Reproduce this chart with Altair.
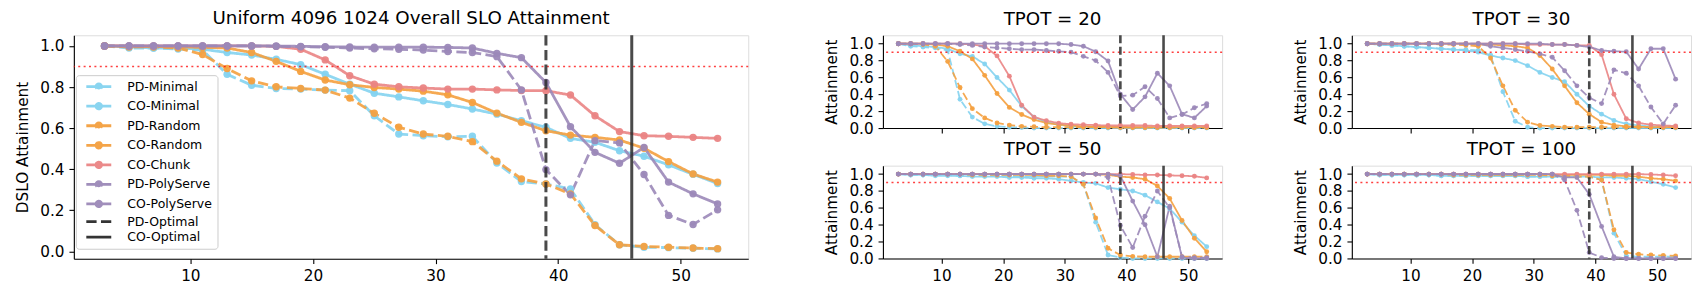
import altair as alt
import pandas as pd

# ---------------- data ----------------
X_VALUES = [3, 5, 7, 9, 11, 13, 15, 17, 19, 21, 23, 25, 27, 29, 31, 33, 35, 37, 39, 41, 43, 45, 47, 49, 51, 53]
SERIES = ["PD-Minimal", "CO-Minimal", "PD-Random", "CO-Random", "CO-Chunk", "PD-PolyServe", "CO-PolyServe"]
OPTIMAL = ["PD-Optimal", "CO-Optimal"]
OPTIMAL_X = [39, 46]
SLO_TARGET = 0.9
PANEL_TITLES = ["TPOT = 20", "TPOT = 30", "TPOT = 50", "TPOT = 100"]

OVERALL = {
    "PD-Minimal": [1.0, 0.99, 0.99, 0.985, 0.98, 0.862, 0.809, 0.793, 0.79, 0.785, 0.782, 0.66, 0.571, 0.563, 0.558, 0.56, 0.43, 0.34, 0.328, 0.304, 0.13, 0.032, 0.02, 0.018, 0.015, 0.012],
    "CO-Minimal": [1.0, 0.995, 0.99, 0.99, 0.984, 0.968, 0.956, 0.935, 0.909, 0.862, 0.814, 0.77, 0.752, 0.733, 0.715, 0.693, 0.668, 0.636, 0.604, 0.55, 0.531, 0.49, 0.463, 0.421, 0.375, 0.33],
    "PD-Random": [1.0, 0.995, 0.995, 0.99, 0.958, 0.89, 0.83, 0.801, 0.793, 0.785, 0.746, 0.672, 0.604, 0.571, 0.56, 0.534, 0.439, 0.353, 0.328, 0.28, 0.126, 0.032, 0.024, 0.02, 0.016, 0.013],
    "CO-Random": [1.0, 0.998, 0.997, 0.995, 0.993, 0.99, 0.968, 0.925, 0.876, 0.834, 0.811, 0.798, 0.79, 0.78, 0.762, 0.725, 0.673, 0.628, 0.587, 0.566, 0.555, 0.542, 0.502, 0.437, 0.377, 0.337],
    "CO-Chunk": [1.0, 1.0, 1.0, 1.0, 1.0, 1.0, 1.0, 0.998, 0.984, 0.932, 0.855, 0.814, 0.801, 0.795, 0.79, 0.79, 0.786, 0.783, 0.782, 0.761, 0.66, 0.583, 0.563, 0.56, 0.555, 0.55],
    "PD-PolyServe": [1.0, 1.0, 1.0, 1.0, 1.0, 1.0, 1.0, 0.998, 0.996, 0.994, 0.99, 0.986, 0.984, 0.98, 0.973, 0.968, 0.948, 0.786, 0.398, 0.275, 0.539, 0.528, 0.374, 0.175, 0.131, 0.202],
    "CO-PolyServe": [1.0, 1.0, 1.0, 1.0, 1.0, 1.0, 1.0, 1.0, 0.998, 0.996, 0.995, 0.994, 0.994, 0.994, 0.993, 0.99, 0.964, 0.943, 0.822, 0.607, 0.482, 0.429, 0.506, 0.337, 0.28, 0.231],
}

TPOT20 = {
    "PD-Minimal": [1.0, 0.97, 0.96, 0.95, 0.92, 0.34, 0.13, 0.05, 0.02, 0.01, 0.005, 0.0, 0.0, 0.0, 0.0, 0.0, 0.0, 0.0, 0.0, 0.0, 0.0, 0.0, 0.0, 0.0, 0.0, 0.0],
    "CO-Minimal": [1.0, 0.98, 0.97, 0.96, 0.94, 0.88, 0.85, 0.76, 0.6, 0.45, 0.26, 0.13, 0.07, 0.04, 0.02, 0.015, 0.01, 0.01, 0.01, 0.005, 0.005, 0.005, 0.005, 0.005, 0.005, 0.005],
    "PD-Random": [1.0, 1.0, 0.99, 0.97, 0.79, 0.48, 0.23, 0.12, 0.06, 0.035, 0.02, 0.015, 0.01, 0.01, 0.01, 0.01, 0.01, 0.01, 0.005, 0.005, 0.005, 0.005, 0.005, 0.005, 0.005, 0.005],
    "CO-Random": [1.0, 1.0, 1.0, 0.99, 0.97, 0.91, 0.82, 0.625, 0.41, 0.245, 0.16, 0.1, 0.06, 0.04, 0.03, 0.02, 0.02, 0.015, 0.015, 0.01, 0.01, 0.01, 0.01, 0.01, 0.01, 0.01],
    "CO-Chunk": [1.0, 1.0, 1.0, 1.0, 1.0, 1.0, 0.99, 0.97, 0.855, 0.615, 0.27, 0.13, 0.088, 0.058, 0.045, 0.04, 0.035, 0.03, 0.03, 0.03, 0.03, 0.025, 0.025, 0.025, 0.025, 0.025],
    "PD-PolyServe": [1.0, 1.0, 1.0, 1.0, 1.0, 0.99, 0.98, 0.96, 0.95, 0.94, 0.93, 0.93, 0.92, 0.91, 0.9, 0.85, 0.8, 0.66, 0.38, 0.39, 0.49, 0.35, 0.12, 0.16, 0.24, 0.29],
    "CO-PolyServe": [1.0, 1.0, 1.0, 1.0, 1.0, 1.0, 1.0, 1.0, 1.0, 1.0, 1.0, 1.0, 1.0, 1.0, 0.99, 0.97, 0.905, 0.795, 0.4, 0.22, 0.37, 0.65, 0.5, 0.165, 0.12, 0.26],
}

TPOT30 = {
    "PD-Minimal": [1.0, 0.99, 0.98, 0.97, 0.96, 0.95, 0.94, 0.93, 0.93, 0.92, 0.86, 0.43, 0.08, 0.01, 0.0, 0.0, 0.0, 0.0, 0.0, 0.0, 0.0, 0.0, 0.0, 0.0, 0.0, 0.0],
    "CO-Minimal": [1.0, 0.99, 0.98, 0.97, 0.96, 0.95, 0.94, 0.93, 0.92, 0.9, 0.86, 0.83, 0.8, 0.74, 0.66, 0.6, 0.55, 0.4, 0.26, 0.165, 0.09, 0.05, 0.03, 0.02, 0.02, 0.02],
    "PD-Random": [1.0, 1.0, 1.0, 1.0, 1.0, 1.0, 0.99, 0.99, 0.98, 0.97, 0.83, 0.5, 0.21, 0.07, 0.03, 0.02, 0.01, 0.01, 0.01, 0.01, 0.01, 0.01, 0.01, 0.01, 0.01, 0.01],
    "CO-Random": [1.0, 1.0, 1.0, 1.0, 1.0, 1.0, 1.0, 1.0, 1.0, 0.99, 0.99, 0.98, 0.97, 0.95, 0.86, 0.7, 0.5, 0.3, 0.165, 0.07, 0.035, 0.02, 0.015, 0.01, 0.01, 0.01],
    "CO-Chunk": [1.0, 1.0, 1.0, 1.0, 1.0, 1.0, 1.0, 1.0, 1.0, 1.0, 1.0, 1.0, 1.0, 0.99, 0.99, 0.99, 0.99, 0.98, 0.98, 0.87, 0.4, 0.11, 0.06, 0.04, 0.03, 0.025],
    "PD-PolyServe": [1.0, 1.0, 1.0, 1.0, 1.0, 1.0, 1.0, 1.0, 1.0, 1.0, 0.97, 0.95, 0.93, 0.91, 0.88, 0.84, 0.68, 0.5, 0.36, 0.29, 0.69, 0.65, 0.5, 0.25, 0.05, 0.27],
    "CO-PolyServe": [1.0, 1.0, 1.0, 1.0, 1.0, 1.0, 1.0, 1.0, 1.0, 1.0, 1.0, 1.0, 1.0, 1.0, 1.0, 0.99, 0.99, 0.98, 0.96, 0.92, 0.91, 0.905, 0.7, 0.94, 0.94, 0.58],
}

TPOT50 = {
    "PD-Minimal": [1.0, 0.99, 0.99, 0.99, 0.99, 0.98, 0.98, 0.98, 0.98, 0.98, 0.97, 0.97, 0.97, 0.97, 0.97, 0.88, 0.43, 0.04, 0.01, 0.0, 0.0, 0.0, 0.0, 0.0, 0.0, 0.0],
    "CO-Minimal": [1.0, 0.99, 0.99, 0.98, 0.98, 0.98, 0.97, 0.97, 0.97, 0.96, 0.96, 0.95, 0.95, 0.94, 0.92, 0.9, 0.89, 0.84, 0.82, 0.8, 0.75, 0.67, 0.59, 0.43, 0.27, 0.14],
    "PD-Random": [1.0, 1.0, 1.0, 1.0, 1.0, 1.0, 0.99, 0.99, 0.99, 0.99, 0.99, 0.99, 0.98, 0.98, 0.97, 0.88, 0.48, 0.12, 0.04, 0.025, 0.02, 0.02, 0.02, 0.02, 0.02, 0.02],
    "CO-Random": [1.0, 1.0, 1.0, 1.0, 1.0, 1.0, 1.0, 1.0, 1.0, 1.0, 1.0, 1.0, 1.0, 1.0, 1.0, 1.0, 1.0, 0.99, 0.97, 0.96, 0.94, 0.86, 0.71, 0.45, 0.24, 0.08],
    "CO-Chunk": [1.0, 1.0, 1.0, 1.0, 1.0, 1.0, 1.0, 1.0, 1.0, 1.0, 1.0, 1.0, 1.0, 1.0, 1.0, 1.0, 1.0, 1.0, 1.0, 0.995, 0.99, 0.99, 0.985, 0.98, 0.975, 0.955],
    "PD-PolyServe": [1.0, 1.0, 1.0, 1.0, 1.0, 1.0, 1.0, 1.0, 1.0, 1.0, 1.0, 1.0, 1.0, 1.0, 1.0, 1.0, 1.0, 0.96, 0.39, 0.13, 0.5, 0.8, 0.6, 0.02, 0.01, 0.01],
    "CO-PolyServe": [1.0, 1.0, 1.0, 1.0, 1.0, 1.0, 1.0, 1.0, 1.0, 1.0, 1.0, 1.0, 1.0, 1.0, 1.0, 1.0, 1.0, 1.0, 0.98, 0.68, 0.4, 0.02, 0.62, 0.01, 0.0, 0.0],
}

TPOT100 = {
    "PD-Minimal": [1.0, 0.99, 0.99, 0.99, 0.99, 0.99, 0.98, 0.98, 0.98, 0.98, 0.98, 0.98, 0.98, 0.97, 0.97, 0.97, 0.97, 0.97, 0.97, 0.93, 0.3, 0.03, 0.02, 0.02, 0.02, 0.02],
    "CO-Minimal": [1.0, 0.99, 0.99, 0.99, 0.99, 0.99, 0.98, 0.98, 0.98, 0.98, 0.98, 0.98, 0.98, 0.97, 0.97, 0.97, 0.97, 0.97, 0.97, 0.96, 0.96, 0.95, 0.94, 0.91, 0.88, 0.84],
    "PD-Random": [1.0, 1.0, 1.0, 1.0, 1.0, 1.0, 1.0, 0.99, 0.99, 0.99, 0.99, 0.99, 0.99, 0.99, 0.99, 0.98, 0.98, 0.97, 0.97, 0.93, 0.34, 0.07, 0.05, 0.04, 0.035, 0.03],
    "CO-Random": [1.0, 1.0, 1.0, 1.0, 1.0, 1.0, 1.0, 1.0, 1.0, 1.0, 1.0, 1.0, 1.0, 1.0, 1.0, 0.99, 0.99, 0.99, 0.99, 0.99, 0.98, 0.98, 0.97, 0.95, 0.94, 0.92],
    "CO-Chunk": [1.0, 1.0, 1.0, 1.0, 1.0, 1.0, 1.0, 1.0, 1.0, 1.0, 1.0, 1.0, 1.0, 1.0, 1.0, 1.0, 1.0, 1.0, 1.0, 1.0, 1.0, 1.0, 1.0, 0.995, 0.99, 0.98],
    "PD-PolyServe": [1.0, 1.0, 1.0, 1.0, 1.0, 1.0, 1.0, 1.0, 1.0, 1.0, 1.0, 1.0, 1.0, 1.0, 1.0, 1.0, 0.93, 0.57, 0.07, 0.01, 0.0, 0.0, 0.0, 0.0, 0.0, 0.0],
    "CO-PolyServe": [1.0, 1.0, 1.0, 1.0, 1.0, 1.0, 1.0, 1.0, 1.0, 1.0, 1.0, 1.0, 1.0, 1.0, 1.0, 1.0, 0.96, 0.96, 0.76, 0.38, 0.02, 0.0, 0.0, 0.0, 0.0, 0.0],
}

# ---------------- styles ----------------
FONT = "DejaVu Sans"
ALL_NAMES = SERIES + OPTIMAL
COLORS = ["#84D3F0", "#84D3F0", "#F4A03F", "#F4A03F", "#EA8484", "#9B88B8", "#9B88B8", "#2a2a2a", "#2a2a2a"]
IS_DASHED = [True, False, True, False, False, True, False, True, False]
LINE_DOT = ("M-2.5,0L2.5,0"
            "M-0.55,0A0.55,0.55,0,1,1,0.55,0A0.55,0.55,0,1,1,-0.55,0"
            "M-0.16,0A0.16,0.16,0,1,1,0.16,0A0.16,0.16,0,1,1,-0.16,0")
LINE_ONLY = "M-2.5,0L2.5,0"
SHAPES = [LINE_DOT] * 7 + [LINE_ONLY] * 2

# ---------------- table ----------------
rows = []
for key, table in [("overall", OVERALL), ("20", TPOT20), ("30", TPOT30), ("50", TPOT50), ("100", TPOT100)]:
    for s in SERIES:
        for xv, v in zip(X_VALUES, table[s]):
            rows.append({"panel": key, "series": s, "x": xv, "value": v})
df = pd.DataFrame(rows)
opt_df = pd.DataFrame({"series": OPTIMAL, "x": OPTIMAL_X})
slo_df = pd.DataFrame({"value": [SLO_TARGET]})

LEGEND = alt.Legend(
    title=None, orient="none", legendX=2, legendY=40,
    symbolSize=100, symbolStrokeWidth=2.8, symbolOffset=11.5, labelOffset=22,
    symbolOpacity=0.95, symbolFillColor="transparent",
    labelFontSize=12.5, labelFont=FONT, labelColor="black",
    rowPadding=2.6, padding=5, strokeColor="#cccccc",
    fillColor="rgba(255,255,255,0.85)", cornerRadius=3,
)

AXIS_COMMON = dict(
    grid=False, tickSize=4.9, tickWidth=1.1, tickColor="black",
    domainColor="black", domainWidth=1.1, labelFont=FONT, labelFontSize=15.3,
    labelColor="black", labelPadding=4.9, labelOverlap=False,
)


def make_panel(key, title, width, height, ydomain, ytitle, show_xlabels, big):
    data = df[df["panel"] == key]
    lw = 2.8 if big else 1.8
    msize = 55 if big else 24
    dash = [10.3, 4.4] if big else [8, 3.5]
    legend = LEGEND if big else None

    xaxis = alt.Axis(values=[10, 20, 30, 40, 50], labels=show_xlabels, title=None,
                     labelFlush=False, format="d", **AXIS_COMMON)
    yaxis = alt.Axis(values=[0, 0.2, 0.4, 0.6, 0.8, 1.0], format=".1f", title=ytitle,
                     titleFont=FONT, titleFontSize=15.3, titleFontWeight="normal",
                     titleColor="black", titlePadding=9, **AXIS_COMMON)
    xenc = alt.X("x:Q", scale=alt.Scale(domain=[0.5, 55.5], nice=False, zero=False), axis=xaxis)
    yenc = alt.Y("value:Q", scale=alt.Scale(domain=ydomain, nice=False, zero=False), axis=yaxis)
    color = alt.Color("series:N", scale=alt.Scale(domain=ALL_NAMES, range=COLORS), legend=legend)
    sdash = alt.StrokeDash("series:N",
                           scale=alt.Scale(domain=ALL_NAMES,
                                           range=[dash if d else [1, 0] for d in IS_DASHED]),
                           legend=legend)

    lines = alt.Chart(data).mark_line(strokeWidth=lw, opacity=0.9).encode(
        x=xenc, y=yenc, color=color, strokeDash=sdash)
    pts = alt.Chart(data).mark_circle(size=msize, opacity=0.95).encode(
        x=xenc, y=yenc, color=color)
    slo = alt.Chart(slo_df).mark_rule(
        color="red", strokeDash=[2, 3.4], strokeWidth=1.5, opacity=0.75
    ).encode(y=yenc)
    rules = alt.Chart(opt_df).mark_rule(strokeWidth=3 if big else 2.6, opacity=0.85).encode(
        x=xenc, color=color, strokeDash=sdash)
    layers = [lines, pts, slo, rules]
    if big:
        dummy = alt.Chart(data).transform_filter("false").mark_point(filled=True).encode(
            x=xenc, y=yenc, color=color,
            shape=alt.Shape("series:N", scale=alt.Scale(domain=ALL_NAMES, range=SHAPES), legend=legend))
        layers.append(dummy)
    return alt.layer(*layers).properties(
        width=width, height=height,
        title=alt.TitleParams(title, font=FONT, fontSize=18.3, fontWeight="normal",
                              color="black", offset=5, anchor="middle"),
    )


big = make_panel("overall", "Uniform 4096 1024 Overall SLO Attainment", 676, 224,
                 [-0.036, 1.052], "DSLO Attainment", True, True)
SW, SH = 340, 93
p20 = make_panel("20", PANEL_TITLES[0], SW, SH, [0, 1.1], "Attainment", False, False)
p30 = make_panel("30", PANEL_TITLES[1], SW, SH, [0, 1.1], "Attainment", False, False)
p50 = make_panel("50", PANEL_TITLES[2], SW, SH, [0, 1.1], "Attainment", True, False)
p100 = make_panel("100", PANEL_TITLES[3], SW, SH, [0, 1.1], "Attainment", True, False)

grid = alt.concat(p20, p30, p50, p100, columns=2,
                  spacing={"row": 37.7, "column": 130}, bounds="flush")

chart = alt.hconcat(big, grid, spacing=135, bounds="flush").resolve_scale(
    color="independent", strokeDash="independent", shape="independent"
).properties(
    padding={"left": 7, "top": 0, "right": 4, "bottom": 2}
).configure_view(
    stroke="black", strokeWidth=1.1
).configure(font=FONT)

chart.save("out.html", embed_options={"renderer": "svg", "actions": False})
